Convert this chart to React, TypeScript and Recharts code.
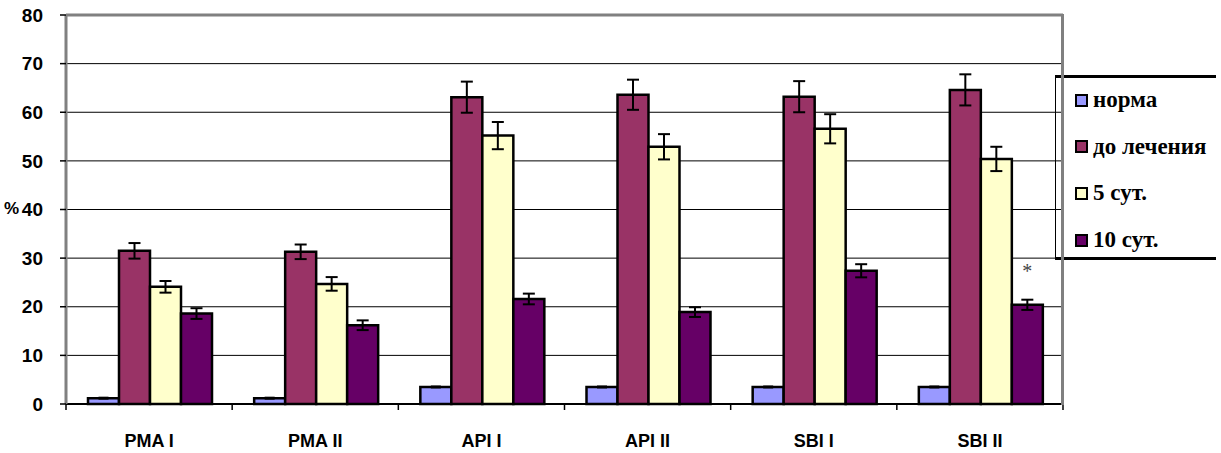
import React from 'react';
import { BarChart, Bar, XAxis, YAxis, CartesianGrid, ErrorBar, ReferenceLine, Legend } from 'recharts';

const categories = ['PMA I', 'PMA II', 'API I', 'API II', 'SBI I', 'SBI II'];
const norma = [1.2, 1.2, 3.5, 3.5, 3.5, 3.5];
const beforeTx = [31.5, 31.3, 63.1, 63.6, 63.2, 64.6];
const day5 = [24.1, 24.7, 55.2, 52.9, 56.6, 50.4];
const day10 = [18.6, 16.2, 21.6, 18.9, 27.4, 20.4];
const errNorma = [0.1, 0.1, 0.1, 0.1, 0.1, 0.1];
const errBefore = [1.6, 1.5, 3.2, 3.1, 3.2, 3.2];
const errDay5 = [1.2, 1.4, 2.8, 2.6, 3.0, 2.5];
const errDay10 = [1.1, 1.0, 1.1, 1.0, 1.35, 1.05];
const yTicks = [0, 10, 20, 30, 40, 50, 60, 70, 80];
const seriesNames = ['норма', 'до лечения', '5 сут.', '10 сут.'];
const seriesColors = ['#9999FF', '#993366', '#FFFFCC', '#660066'];
const starIndex = 5;

const data = categories.map((c, i) => ({
  name: c,
  norma: norma[i],
  beforeTx: beforeTx[i],
  day5: day5[i],
  day10: day10[i],
  eNorma: errNorma[i],
  eBefore: errBefore[i],
  eDay5: errDay5[i],
  eDay10: errDay10[i],
}));

const W = 1221;
const H = 453;
const M = { top: 15, right: 158, left: 0, bottom: 19 };
const Y_W = 66;
const X_H = 30;
const PLOT_W = W - M.left - M.right - Y_W;
const BAND = PLOT_W / categories.length;

const XTick = (props: any) => {
  const { x, y, payload, index } = props;
  return (
    <g>
      <line x1={x - BAND / 2} y1={y} x2={x - BAND / 2} y2={y + 6} stroke="#000" strokeWidth={1.5} />
      {index === categories.length - 1 && (
        <line x1={x + BAND / 2} y1={y} x2={x + BAND / 2} y2={y + 6} stroke="#000" strokeWidth={1.5} />
      )}
      <text
        x={x}
        y={y + 43}
        textAnchor="middle"
        fontFamily="'Liberation Sans', Arial, sans-serif"
        fontWeight="bold"
        fontSize={18}
        fill="#000"
      >
        {payload.value}
      </text>
    </g>
  );
};

const StarLabel = (props: any) => {
  const { x, y, width, index } = props;
  if (index !== starIndex) return null;
  return (
    <text
      x={x + width / 2}
      y={y - 27}
      textAnchor="middle"
      fontFamily="'Liberation Serif', serif"
      fontSize={20}
      fill="#444"
    >
      *
    </text>
  );
};

const LegendBox = () => (
  <div
    style={{
      position: 'relative',
      width: 161,
      height: 185,
      borderTop: '3px solid #000',
      borderBottom: '3px solid #000',
      boxSizing: 'border-box',
    }}
  >
    <div style={{ position: 'absolute', left: 0, top: 0, width: 1, height: 182, background: '#000' }} />
    {seriesNames.map((n, i) => (
      <div
        key={n}
        style={{
          position: 'absolute',
          left: 20,
          top: 10 + i * 46.7,
          height: 24,
          display: 'flex',
          alignItems: 'center',
          whiteSpace: 'nowrap',
        }}
      >
        <span
          style={{
            display: 'inline-block',
            width: 9,
            height: 9,
            background: seriesColors[i],
            border: '2px solid #000',
            marginRight: 5,
          }}
        />
        <span
          style={{
            fontFamily: "'Liberation Serif', 'Times New Roman', serif",
            fontWeight: 'bold',
            fontSize: 23,
            color: '#000',
          }}
        >
          {n}
        </span>
      </div>
    ))}
  </div>
);

export default function App() {
  return (
    <div style={{ position: 'absolute', left: 0, top: 0, width: W, height: H, background: '#fff' }}>
      <BarChart width={W} height={H} data={data} margin={M} barGap={0} barCategoryGap={22}>
        <CartesianGrid vertical={false} stroke="#000" strokeWidth={1} />
        <ReferenceLine y={80} stroke="#808080" strokeWidth={3} />
        <XAxis
          dataKey="name"
          height={X_H}
          tickLine={false}
          tickSize={0}
          tickMargin={0}
          axisLine={{ stroke: '#000', strokeWidth: 2 }}
          tick={<XTick />}
          interval={0}
        />
        <YAxis
          width={Y_W}
          domain={[0, 80]}
          ticks={yTicks}
          interval={0}
          tickSize={6}
          tickMargin={17}
          axisLine={{ stroke: '#808080', strokeWidth: 3 }}
          tickLine={{ stroke: '#000', strokeWidth: 1.5 }}
          tick={{ fontFamily: "'Liberation Sans', Arial, sans-serif", fontWeight: 'bold', fontSize: 19, fill: '#000' }}
        />
        <Legend
          verticalAlign="middle"
          align="center"
          layout="vertical"
          wrapperStyle={{ position: 'absolute', left: 1055, top: 75, width: 161, height: 185 }}
          content={() => <LegendBox />}
        />
        <Bar dataKey="norma" name={seriesNames[0]} fill={seriesColors[0]} stroke="#000" strokeWidth={2.5} isAnimationActive={false}>
          <ErrorBar dataKey="eNorma" width={5} stroke="#000" strokeWidth={2} />
        </Bar>
        <Bar dataKey="beforeTx" name={seriesNames[1]} fill={seriesColors[1]} stroke="#000" strokeWidth={2.5} isAnimationActive={false}>
          <ErrorBar dataKey="eBefore" width={6} stroke="#000" strokeWidth={2} />
        </Bar>
        <Bar dataKey="day5" name={seriesNames[2]} fill={seriesColors[2]} stroke="#000" strokeWidth={2.5} isAnimationActive={false}>
          <ErrorBar dataKey="eDay5" width={6} stroke="#000" strokeWidth={2} />
        </Bar>
        <Bar
          dataKey="day10"
          name={seriesNames[3]}
          fill={seriesColors[3]}
          stroke="#000"
          strokeWidth={2.5}
          isAnimationActive={false}
          label={<StarLabel />}
        >
          <ErrorBar dataKey="eDay10" width={6} stroke="#000" strokeWidth={2} />
        </Bar>
      </BarChart>
      <div style={{ position: 'absolute', left: 1061, top: 14, width: 3, height: 391, background: '#808080' }} />
      <div
        style={{
          position: 'absolute',
          left: 4,
          top: 199,
          fontFamily: "'Liberation Sans', Arial, sans-serif",
          fontWeight: 'bold',
          fontSize: 17,
          lineHeight: '20px',
          color: '#000',
        }}
      >
        %
      </div>
    </div>
  );
}
